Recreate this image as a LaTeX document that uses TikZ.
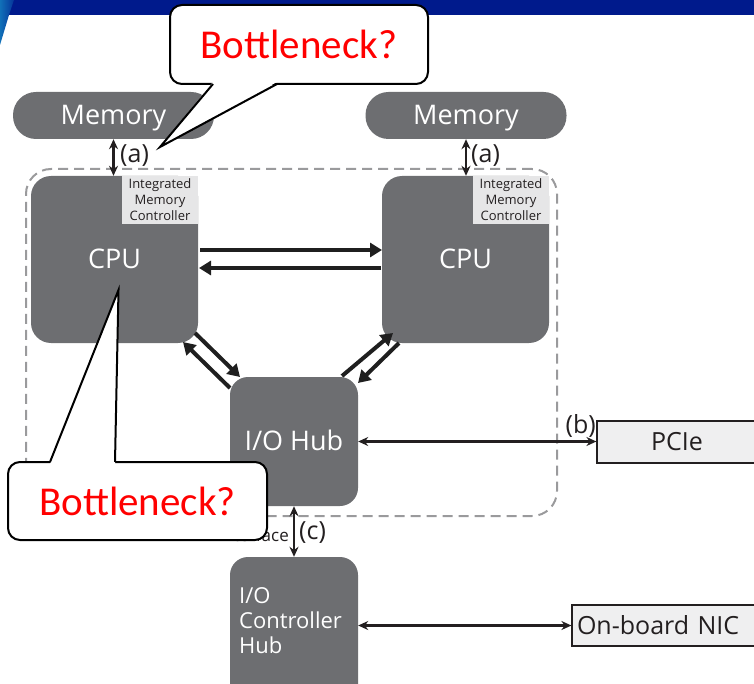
\documentclass[tikz,border=0pt]{standalone}
\usepackage{fontspec}
\setmainfont{Open Sans}
\newfontfamily\calloutfont{Carlito}
\usetikzlibrary{arrows.meta,calc}

\definecolor{unitgray}{HTML}{6D6E71}
\definecolor{imcfill}{HTML}{E6E6E7}
\definecolor{extfill}{HTML}{EFEFF0}
\definecolor{inkdark}{HTML}{231F20}
\definecolor{dashgray}{HTML}{9A9A9C}
\definecolor{banddark}{HTML}{001A8C}
\definecolor{bandlight}{HTML}{1170B8}

\tikzset{
  unit/.style={fill=unitgray, text=white, inner sep=0pt,
    text height=19.4pt, text depth=2pt,
    font=\fontsize{27}{30}\selectfont},
  pill/.style={unit, rounded corners=23pt, minimum width=201pt, minimum height=47pt},
  cpubox/.style={unit, rounded corners=20pt, minimum width=167pt, minimum height=167pt},
  hubbox/.style={unit, rounded corners=18pt, minimum width=128pt},
  imcbox/.style={fill=imcfill, text=inkdark, inner sep=0pt, align=center,
    minimum width=76pt, minimum height=48pt,
    font=\fontsize{13}{16}\selectfont},
  extbox/.style={draw=inkdark, line width=1.2pt, fill=extfill, text=inkdark,
    inner sep=0pt, font=\fontsize{25}{28}\selectfont},
  bigarrow/.style={line width=4pt, draw=black!88,
    -{Triangle[length=12pt,width=14pt]}},
  link/.style={line width=2.2pt, draw=inkdark,
    {Stealth[length=10pt,width=9pt]}-{Stealth[length=10pt,width=9pt]}},
  tag/.style={text=inkdark, inner sep=0pt, font=\fontsize{25}{28}\selectfont},
  balloon/.style={draw=black, line width=2pt, fill=white, rounded corners=12pt,
    text=red, inner sep=0pt, font=\calloutfont\fontsize{41}{44}\selectfont},
  balloonedge/.style={draw=black, line width=2pt},
}

\begin{document}
\begin{tikzpicture}[x=1pt,y=-1pt]
\useasboundingbox (0,0) rectangle (754,684);

% title band
\fill[banddark] (0,0) rectangle (754,15);
\shade[left color=bandlight, right color=banddark!70!bandlight]
  (0,0) -- (14,0) -- (9,15) -- (0,45) -- cycle;

% processor package outline
\node[draw=dashgray, line width=2pt, dash pattern=on 10pt off 6pt,
      rounded corners=25pt, minimum width=531pt, minimum height=347pt,
      inner sep=0pt] (pkg) at (291.5,342.5) {};

% memories
\node[pill] (memL) at (113.5,115.5) {Memory};
\node[pill] (memR) at (466,115.5) {Memory};

% processors
\node[cpubox] (cpuL) at (114.5,259.5) {CPU};
\node[cpubox] (cpuR) at (465.5,259.5) {CPU};
\node[imcbox] (imcL) at (160,200) {Integrated\\Memory\\Controller};
\node[imcbox] (imcR) at (511,200) {Integrated\\Memory\\Controller};

% hubs
\node[hubbox, minimum height=129pt] (hub) at (294,441.5) {I/O Hub};
\node[hubbox, minimum height=160pt] (ich) at (294,637) {};
\node[anchor=west, align=left, text=white, inner sep=0pt,
      font=\fontsize{22}{25}\selectfont] (ichtext) at (239,621)
      {I/O\\Controller\\Hub};

% peripherals
\node[extbox, minimum width=160pt, minimum height=42pt] (pcie) at (677,442) {PCIe};
\node[extbox, minimum width=186pt, minimum height=41pt,
      text width=176pt, align=left] (nic) at (665,625.5) {On-board NIC};

% CPU <-> CPU
\coordinate (qa1) at (200,250);  \coordinate (qa2) at (382,250);
\coordinate (qb1) at (381,268);  \coordinate (qb2) at (199,268);
\draw[bigarrow] (qa1) -- (qa2);
\draw[bigarrow] (qb1) -- (qb2);

% CPU <-> I/O Hub
\coordinate (la1) at (195,333); \coordinate (la2) at (240,377);
\coordinate (lb1) at (230,388); \coordinate (lb2) at (183,342);
\coordinate (ra1) at (342,376); \coordinate (ra2) at (393,333);
\coordinate (rb1) at (399,343); \coordinate (rb2) at (358,383);
\draw[bigarrow] (la1) -- (la2);
\draw[bigarrow] (lb1) -- (lb2);
\draw[bigarrow] (ra1) -- (ra2);
\draw[bigarrow] (rb1) -- (rb2);

% thin links
\draw[link] (memL.south) -- (memL.south |- cpuL.north);
\draw[link] (memR.south) -- (memR.south |- cpuR.north);
\draw[link] (hub.east) -- (hub.east -| pcie.west);
\draw[link] (hub.south) -- (ich.north);
\draw[link] (ich.east |- nic.west) -- (nic.west);

\node[tag, anchor=west] (tagaL) at (120,156) {(a)};
\node[tag, anchor=west] (tagaR) at (471,156) {(a)};
\node[tag, anchor=east] (tagb) at (596,426) {(b)};
\node[tag, anchor=west] (tagc) at (299,533) {(c)};
\node[tag, anchor=east, font=\fontsize{17}{20}\selectfont] (dmi) at (289,535) {Interface};

% callouts
\node[balloon, minimum width=258pt, minimum height=79pt] (bnA) at (299,44.5)
  {\raisebox{-3pt}{Bottleneck?}};
\coordinate (tipA) at (160,147);
\fill[white] (213,82) -- (tipA) -- (277,82) -- cycle;
\draw[balloonedge] (213,84) -- (tipA) -- (277,84);

\node[balloon, minimum width=259pt, minimum height=78pt] (bnB) at (137.5,501)
  {\raisebox{-3pt}{Bottleneck?}};
\coordinate (tipB) at (118.5,290);
\fill[white] (50,464) -- (tipB) -- (115,464) -- cycle;
\draw[balloonedge] (50,462) -- (tipB) -- (115,462);
\end{tikzpicture}
\end{document}
